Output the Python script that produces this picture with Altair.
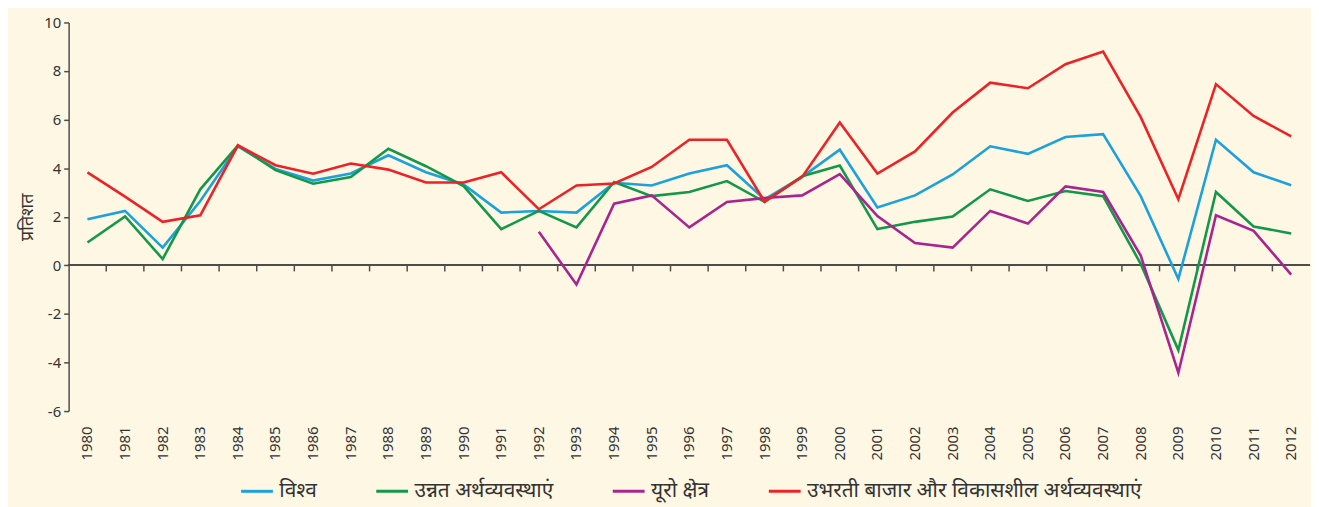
import altair as alt
import pandas as pd

years = list(range(1980, 2013))

world = [1.90, 2.24, 0.73, 2.65, 4.90, 3.97, 3.49, 3.78, 4.53, 3.83, 3.33, 2.17,
         2.24, 2.17, 3.40, 3.29, 3.78, 4.12, 2.72, 3.64, 4.76, 2.38, 2.88, 3.74,
         4.90, 4.59, 5.28, 5.40, 2.85, -0.56, 5.17, 3.83, 3.30]
advanced = [0.94, 2.01, 0.26, 3.13, 4.94, 3.92, 3.36, 3.64, 4.80, 4.08, 3.26, 1.49,
            2.24, 1.56, 3.43, 2.85, 3.02, 3.47, 2.61, 3.67, 4.11, 1.49, 1.79, 2.01,
            3.13, 2.65, 3.06, 2.85, 0.06, -3.49, 3.02, 1.60, 1.31]
euro = [None] * 12 + [1.38, -0.79, 2.54, 2.88, 1.56, 2.61, 2.77, 2.88, 3.75, 2.03,
                      0.92, 0.73, 2.24, 1.72, 3.25, 3.02, 0.40, -4.42, 2.06, 1.42, -0.38]
emerging = [3.83, 2.83, 1.79, 2.06, 4.94, 4.12, 3.77, 4.19, 3.94, 3.41, 3.41, 3.83,
            2.31, 3.29, 3.37, 4.05, 5.17, 5.17, 2.62, 3.64, 5.88, 3.78, 4.69, 6.29,
            7.52, 7.29, 8.28, 8.80, 6.10, 2.72, 7.46, 6.15, 5.31]

names = ["विश्व", "उन्नत अर्थव्यवस्थाएं", "यूरो क्षेत्र",
         "उभरती बाजार और विकासशील अर्थव्यवस्थाएं"]
colors = ["#1BA1DB", "#13984A", "#A8248F", "#EC2227"]
y_ticks = [-6, -4, -2, 0, 2, 4, 6, 8, 10]

rows = []
for i, (name, vals) in enumerate(zip(names, [world, advanced, euro, emerging])):
    for yr, v in zip(years, vals):
        if v is not None:
            rows.append({"year": str(yr), "series": name, "order": i, "value": v})
df = pd.DataFrame(rows)
tick_df = pd.DataFrame({"year": [str(y) for y in years[1:]]})

FONT = "Noto Sans"
AX = "#4d4d4d"
TXT = "#333333"
W, H = 1249, 391

xscale = alt.Scale(type="band", paddingInner=0, paddingOuter=0,
                   domain=[str(y) for y in years])
yscale = alt.Scale(domain=[-6, 10], nice=False, zero=False)

xaxis = alt.Axis(domain=False, ticks=False, labelAngle=-90,
                 labelFontSize=15, labelPadding=15, title=None,
                 labelColor=TXT, labelFont=FONT, grid=False)

yaxis = alt.Axis(values=y_ticks, tickSize=5, labelPadding=3, labelFontSize=15,
                 labelColor=TXT, labelFont=FONT, labelExpr="'' + datum.value",
                 title="प्रतिशत",
                 titleFontSize=18, titleFontWeight="normal", titleFont=FONT,
                 titleColor=TXT, titlePadding=7, domainColor=AX, tickColor=AX,
                 domainWidth=1.5, tickWidth=1.5, grid=False)

lines = alt.Chart(df).mark_line(strokeWidth=2.6).encode(
    x=alt.X("year:O", scale=xscale, bandPosition=0.5, axis=xaxis),
    y=alt.Y("value:Q", scale=yscale, axis=yaxis),
    color=alt.Color("series:N", sort=names,
                    scale=alt.Scale(domain=names, range=colors),
                    legend=alt.Legend(orient="none", legendX=172, legendY=454,
                                      direction="horizontal", columns=4,
                                      title=None, symbolType="stroke",
                                      symbolSize=1024, symbolStrokeWidth=3,
                                      labelFontSize=21, labelFont=FONT,
                                      labelColor=TXT, columnPadding=53,
                                      labelOffset=5, labelLimit=600)),
    order=alt.Order("order:Q"),
)

zero_line = alt.Chart(tick_df).mark_rule(color=AX, strokeWidth=1.5).encode(
    y=alt.datum(0),
)

zero_ticks = alt.Chart(tick_df).mark_rule(color=AX, strokeWidth=1.5).encode(
    x=alt.X("year:O", scale=xscale, bandPosition=0, axis=xaxis),
    y=alt.datum(0),
    y2=alt.datum(-0.25),
)

chart = alt.layer(zero_line, zero_ticks, lines).properties(
    width=W, height=H,
    padding={"left": 10, "top": 6, "right": 0, "bottom": 4},
    background="#FEF7E3",
).configure_view(stroke=None)

chart.save("out.html", embed_options={"renderer": "svg", "actions": False})
